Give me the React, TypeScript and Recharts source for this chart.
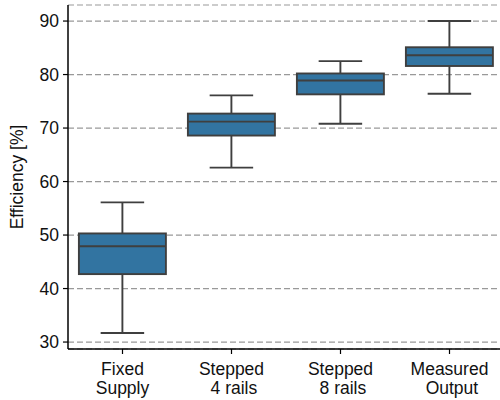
import { Bar, CartesianGrid, ComposedChart, XAxis, YAxis } from 'recharts';

// five-number summaries per supply strategy (whisker low, Q1, median, Q3, whisker high)
const categories = ['Fixed\nSupply', 'Stepped\n\u00a04 rails', 'Stepped\n\u00a08 rails', 'Measured\n\u00a0Output'];
const lows = [31.7, 62.6, 70.8, 76.4];
const q1s = [42.7, 68.6, 76.3, 81.6];
const medians = [47.9, 71.2, 78.9, 83.6];
const q3s = [50.3, 72.7, 80.2, 85.1];
const highs = [56.1, 76.1, 82.5, 90.0];
const yTicks = [30, 40, 50, 60, 70, 80, 90];

const data = categories.map((name, i) => ({
  name,
  low: lows[i],
  q1: q1s[i],
  median: medians[i],
  q3: q3s[i],
  high: highs[i],
}));

const FONT = '"Liberation Sans", Arial, sans-serif';
const FONT_SIZE = 17.5;
const BOX_FILL = '#3274a1';
const EDGE = '#3f3f3f';
const LW = 1.9;

function BoxShape(props: any) {
  const { x, y, width, height, payload } = props;
  if (payload == null) return null;
  const { low, q1, median, q3, high } = payload;
  // the bar spans [low, high], so map values inside that pixel range
  const toY = (v: number) => y + ((high - v) / (high - low)) * height;
  const cx = x + width / 2;
  const capHalf = width / 4;
  const yHigh = toY(high);
  const yLow = toY(low);
  const yQ3 = toY(q3);
  const yQ1 = toY(q1);
  const yMed = toY(median);
  return (
    <g>
      <line x1={cx} x2={cx} y1={yHigh} y2={yQ3} stroke={EDGE} strokeWidth={LW} />
      <line x1={cx} x2={cx} y1={yQ1} y2={yLow} stroke={EDGE} strokeWidth={LW} />
      <line x1={cx - capHalf} x2={cx + capHalf} y1={yHigh} y2={yHigh} stroke={EDGE} strokeWidth={LW} />
      <line x1={cx - capHalf} x2={cx + capHalf} y1={yLow} y2={yLow} stroke={EDGE} strokeWidth={LW} />
      <rect x={x} y={yQ3} width={width} height={yQ1 - yQ3} fill={BOX_FILL} stroke={EDGE} strokeWidth={LW} />
      <line x1={x} x2={x + width} y1={yMed} y2={yMed} stroke={EDGE} strokeWidth={LW} />
    </g>
  );
}

function CategoryTick(props: any) {
  const { x, y, payload } = props;
  const lines = String(payload.value).split('\n');
  return (
    <text x={x} y={y + 19} textAnchor="middle" fontFamily={FONT} fontSize={FONT_SIZE} fill="#111">
      {lines.map((line, i) => (
        <tspan key={i} x={x} dy={i === 0 ? 0 : 19}>
          {line}
        </tspan>
      ))}
    </text>
  );
}

function YLabel() {
  return (
    <text
      x={17}
      y={177}
      transform="rotate(-90 17 177)"
      textAnchor="middle"
      dominantBaseline="central"
      fontFamily={FONT}
      fontSize={FONT_SIZE}
      fill="#111"
    >
      Efficiency [%]
    </text>
  );
}

export default function App() {
  return (
    <div style={{ position: 'absolute', left: 0, top: 0, width: 500, height: 400, overflow: 'hidden', background: '#fff' }}>
      <ComposedChart
        width={504}
        height={400}
        data={data}
        margin={{ top: 5, right: 0, bottom: 0, left: 0 }}
        barCategoryGap="10%"
      >
        <CartesianGrid vertical={false} stroke="#999" strokeDasharray="6 3" strokeWidth={1.2} />
        <XAxis
          dataKey="name"
          height={51}
          tick={<CategoryTick />}
          tickSize={5}
          axisLine={{ stroke: '#000', strokeWidth: 1.5 }}
          tickLine={{ stroke: '#000', strokeWidth: 1.2 }}
          interval={0}
        />
        <YAxis
          width={68}
          domain={[28.7, 93]}
          ticks={yTicks}
          tickSize={5}
          tickMargin={4}
          axisLine={{ stroke: '#000', strokeWidth: 1.5 }}
          tickLine={{ stroke: '#000', strokeWidth: 1.2 }}
          tick={{ fontFamily: FONT, fontSize: FONT_SIZE, fill: '#111' }}
          label={<YLabel />}
        />
        <Bar dataKey={(d: any) => [d.low, d.high]} shape={<BoxShape />} isAnimationActive={false} />
      </ComposedChart>
    </div>
  );
}
